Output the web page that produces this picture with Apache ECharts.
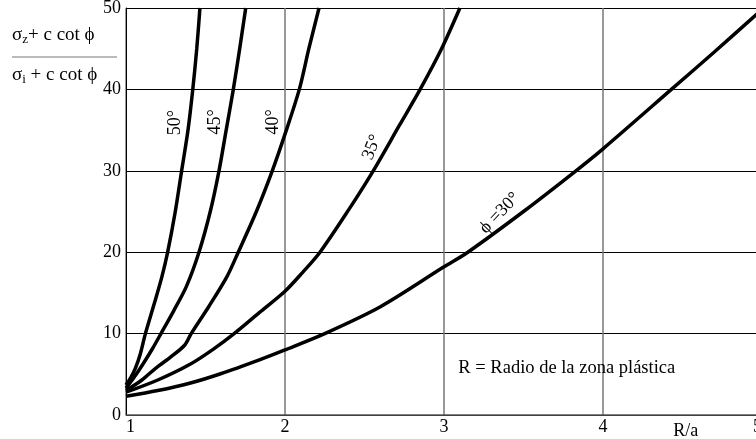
<!DOCTYPE html>
<html>
<head>
<meta charset="utf-8">
<script src="https://cdn.jsdelivr.net/npm/echarts@6/dist/echarts.min.js"></script>
<style>
html,body{margin:0;padding:0;background:#fff;}
#chart{width:756px;height:439px;}
</style>
</head>
<body>
<div id="chart"></div>
<script>
// Data (R/a, ratio)
const phi50 = [[1,3.7],[1.03,4.6],[1.06,5.8],[1.09,7.5],[1.122,10],[1.175,13.5],[1.226,17],[1.262,20],[1.31,25],[1.35,30],[1.39,35],[1.42,40],[1.445,45],[1.465,50]];
const phi45 = [[1,3.3],[1.05,4.6],[1.105,6.2],[1.168,8.2],[1.22,10],[1.30,12.8],[1.38,15.8],[1.459,20],[1.53,25],[1.585,30],[1.63,35],[1.675,40],[1.715,45],[1.753,50]];
const phi40 = [[1,3.0],[1.1,4.3],[1.19,5.8],[1.28,7.1],[1.37,8.6],[1.41,10],[1.52,13.3],[1.635,17],[1.706,20],[1.82,25],[1.92,30],[2,34.5],[2.09,40],[2.15,45],[2.214,50]];
const phi35 = [[1,2.8],[1.2,4.3],[1.4,6.2],[1.55,8.1],[1.68,10],[1.84,12.6],[2,15.2],[2.11,17.5],[2.22,20],[2.4,25.2],[2.555,30],[2.72,35.6],[2.85,40],[2.98,44.8],[3.1,50]];
const phi30 = [[1,2.3],[1.2,3.0],[1.4,3.9],[1.6,5.1],[1.855,6.9],[2,8.0],[2.25,10],[2.6,13.3],[3,18.2],[3.15,20],[3.5,25],[3.83,30],[4,32.7],[4.43,40],[4.7,44.6],[5,49.8]];
const curveNames = ['50°','45°','40°','35°','ϕ =30°'];
const xTicks = [1,2,3,4,5];
const yTicks = [0,10,20,30,40,50];

const FONT = "'Liberation Serif','Times New Roman',serif";
const chart = echarts.init(document.getElementById('chart'), null, {renderer:'canvas'});
const curves = [phi50, phi45, phi40, phi35, phi30];

chart.setOption({
  animation:false,
  backgroundColor:'#fff',
  grid:{left:126, top:8, width:636, height:407, outerBoundsMode:'none', containLabel:false},
  xAxis:{type:'value', min:xTicks[0], max:xTicks[xTicks.length-1], interval:1,
    axisLine:{lineStyle:{color:'#555', width:1.5}},
    axisTick:{show:false},
    axisLabel:{color:'#000', fontFamily:FONT, fontSize:18, margin:3, alignMinLabel:'left', alignMaxLabel:'right'},
    splitLine:{show:true, lineStyle:{color:'#777', width:1.5}}},
  yAxis:{type:'value', min:yTicks[0], max:yTicks[yTicks.length-1], interval:10,
    axisLine:{show:true, lineStyle:{color:'#000', width:1}},
    axisTick:{show:false},
    axisLabel:{color:'#000', fontFamily:FONT, fontSize:18, margin:5},
    splitLine:{show:true, lineStyle:{color:'#000', width:1}}},
  series: curves.map((d,i)=>({
    type:'line', name:curveNames[i], data:d, smooth:0.3, showSymbol:false,
    lineStyle:{color:'#000', width:3.5}, clip:true
  }))
});

function px(x,y){ return chart.convertToPixel({gridIndex:0},[x,y]); }
const labelPos = [[1.308,35.9,90],[1.56,36,90],[1.925,36,90],[2.547,32.9,68],[3.35,24.8,46]];
const graphics = [];
labelPos.forEach((p,i)=>{
  const c = px(p[0],p[1]);
  graphics.push({type:'text', x:c[0], y:c[1], rotation:p[2]*Math.PI/180,
    style:{text:curveNames[i], font:'18px '+FONT, fill:'#000', align:'center', verticalAlign:'middle'}});
});
const note = px(3.09,5.8);
graphics.push({type:'text', x:note[0], y:note[1], style:{text:'R = Radio de la zona plástica', font:'18.5px '+FONT, fill:'#000', align:'left', verticalAlign:'middle'}});
const ra = px(4.52,-1.95);
graphics.push({type:'text', x:ra[0], y:ra[1], style:{text:'R/a', font:'18px '+FONT, fill:'#000', align:'center', verticalAlign:'middle'}});
// y-axis title as fraction
graphics.push({type:'text', x:12, y:35, style:{
  rich:{n:{fontFamily:FONT, fontSize:19, fill:'#000'}, s:{fontFamily:FONT, fontSize:13, fill:'#000', padding:[10,0,0,0]}},
  text:'{n|σ}{s|z}{n|+ c cot ϕ}', verticalAlign:'middle', align:'left'}});
graphics.push({type:'line', shape:{x1:12,y1:57,x2:117,y2:57}, style:{stroke:'#777', lineWidth:1}});
graphics.push({type:'text', x:12, y:75, style:{
  rich:{n:{fontFamily:FONT, fontSize:19, fill:'#000'}, s:{fontFamily:FONT, fontSize:13, fill:'#000', padding:[10,0,0,0]}},
  text:'{n|σ}{s|i}{n| + c cot ϕ}', verticalAlign:'middle', align:'left'}});
chart.setOption({graphic:graphics});
</script>
</body>
</html>
